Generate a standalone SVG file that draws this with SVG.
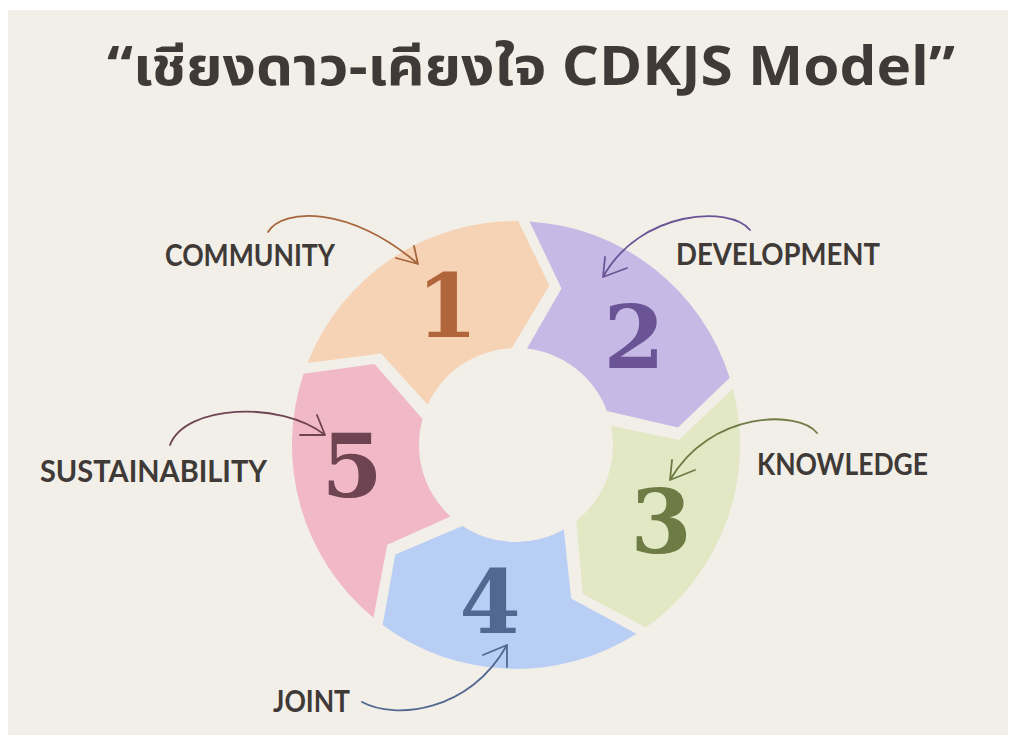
<svg xmlns="http://www.w3.org/2000/svg" width="1016" height="745" viewBox="0 0 1016 745">
<style>
.lbl{font-family:"Lato","Open Sans","Liberation Sans",sans-serif;font-weight:700;font-size:31px;fill:#3f3a37}
.num{font-family:"DejaVu Serif","Liberation Serif",serif;font-weight:700;font-size:88px;text-anchor:middle}
.arr{fill:none;stroke-width:1.8;stroke-linecap:round;stroke-linejoin:round}
.title{font-family:"Noto Sans Thai","Noto Sans","DejaVu Sans",sans-serif;font-weight:700;font-size:54px;fill:#3f3a37}
</style>
<rect x="0" y="0" width="1016" height="745" fill="#ffffff"/>
<rect x="8" y="10" width="1000" height="725" fill="#f2eee8"/>
<text class="title" x="107" y="85" textLength="848" lengthAdjust="spacingAndGlyphs">“เชียงดาว-เคียงใจ CDKJS Model”</text>

<g id="seg1">
<path d="M307.5,363.1 A224,224 0 0 1 518.2,221.0 L549.3,285.4 L511.8,348.1 A97,97 0 0 0 427.7,404.8 L381.2,353.4 Z" fill="#f5d3b4"/>
<text class="num" x="447" y="337" fill="#b0653a">1</text>
</g>
<g id="seg2">
<path d="M529.5,221.4 A224,224 0 0 1 729.7,377.8 L678.0,427.4 L606.9,411.0 A97,97 0 0 0 527.0,348.6 L561.5,288.5 Z" fill="#c7b9e6"/>
<text class="num" x="634" y="368" fill="#6a5496">2</text>
</g>
<g id="seg3">
<path d="M732.8,388.7 A224,224 0 0 1 645.9,627.5 L582.8,593.7 L576.4,520.9 A97,97 0 0 0 611.1,425.7 L678.9,439.9 Z" fill="#e1e8c3"/>
<text class="num" x="661" y="553" fill="#6e7b45">3</text>
</g>
<g id="seg4">
<path d="M636.5,633.8 A224,224 0 0 1 382.6,624.9 L395.3,554.5 L462.5,525.9 A97,97 0 0 0 563.8,529.4 L571.2,598.4 Z" fill="#b9cef4"/>
<text class="num" x="490" y="633" fill="#536890">4</text>
</g>
<g id="seg5">
<path d="M373.5,617.8 A224,224 0 0 1 303.6,373.7 L374.5,364.0 L422.5,419.1 A97,97 0 0 0 450.5,516.5 L387.2,544.8 Z" fill="#f1b8c7"/>
<text class="num" x="352" y="497" fill="#6e4452">5</text>
</g>

<g id="label-community"><text class="lbl" x="165" y="266" textLength="170" lengthAdjust="spacingAndGlyphs">COMMUNITY</text></g>
<g id="label-development"><text class="lbl" x="676" y="265" textLength="204" lengthAdjust="spacingAndGlyphs">DEVELOPMENT</text></g>
<g id="label-knowledge"><text class="lbl" x="757" y="475" textLength="171" lengthAdjust="spacingAndGlyphs">KNOWLEDGE</text></g>
<g id="label-sustainability"><text class="lbl" x="40" y="482" textLength="227" lengthAdjust="spacingAndGlyphs">SUSTAINABILITY</text></g>
<g id="label-joint"><text class="lbl" x="273" y="712" textLength="77" lengthAdjust="spacingAndGlyphs">JOINT</text></g>

<g id="connectors">
<path class="arr" stroke="#a8663d" d="M268,232 C282,208 350,205 418,264 M418,264 L414,246 M418,264 L396,258"/>
<path class="arr" stroke="#6a5496" d="M750,230 C730,205 640,210 603,277 M603,277 L605,257 M603,277 L627,268"/>
<path class="arr" stroke="#6e7b45" d="M817,433 C800,410 710,410 670,480 M670,480 L672,460 M670,480 L695,470"/>
<path class="arr" stroke="#536890" d="M362,702 C395,720 470,712 507,645 M507,645 L483,655 M507,645 L507,667"/>
<path class="arr" stroke="#6e4452" d="M170,445 C185,405 280,400 325,435 M325,435 L317,415 M325,435 L300,435"/>
</g>
</svg>
